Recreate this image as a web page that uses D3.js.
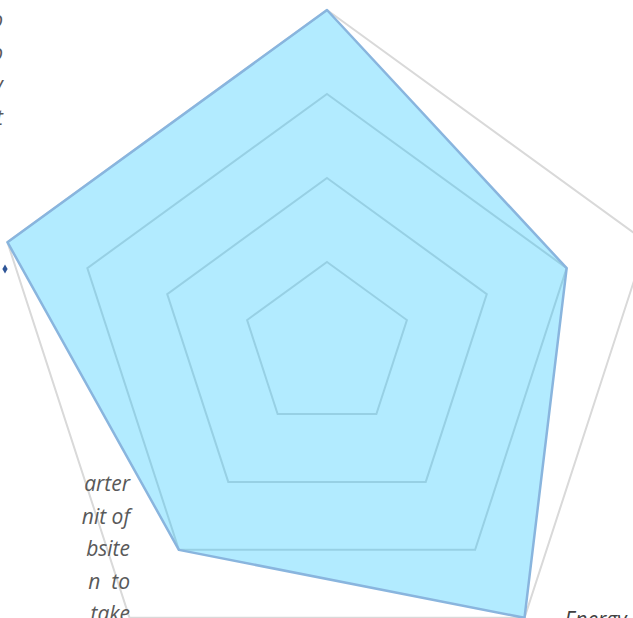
<!DOCTYPE html>
<html>
<head>
<meta charset="utf-8">
<script src="https://cdn.jsdelivr.net/npm/d3@7"></script>
<style>
  html, body { margin: 0; padding: 0; background: #fff; }
  #chart { width: 633px; height: 618px; overflow: hidden; }
  text { font-family: "Open Sans", "Noto Sans", sans-serif; }
</style>
</head>
<body>
<div id="chart"></div>
<script>
// radar axes, clockwise from top (only "Energy" falls inside the visible frame)
const axes = ['A', 'B', 'Energy', 'D', 'E'];
const values = [4, 3, 4, 3, 4];
const levels = [1, 2, 3, 4];

// text fragments cut off by the frame
const leftNotes = ['arter', 'nit of', 'bsite', 'n\u00a0\u00a0to', 'take'];
const topNotes = ['o', 'o', 'y', 't'];

const W = 633, H = 618;
const cx = 327, cy = 346, R = 336;

const svg = d3.select('#chart').append('svg')
  .attr('width', W).attr('height', H);

const r = d3.scaleLinear().domain([0, d3.max(levels)]).range([0, R]);
const angle = d3.scaleLinear().domain([0, axes.length]).range([0, 2 * Math.PI]);

const g = svg.append('g').attr('transform', `translate(${cx},${cy})`);

const ring = d3.lineRadial()
  .angle((d, i) => angle(i))
  .radius(d => r(d))
  .curve(d3.curveLinearClosed);

// Gridlines
g.selectAll('.grid')
  .data(levels)
  .join('path')
  .attr('class', 'grid')
  .attr('d', l => ring(axes.map(() => l)))
  .attr('fill', 'none')
  .attr('stroke', '#d9d9d9')
  .attr('stroke-width', 2);

// Series area
g.append('path')
  .attr('d', ring(values))
  .attr('fill', 'rgb(0,190,255)')
  .attr('fill-opacity', 0.3)
  .attr('stroke', '#89b5de')
  .attr('stroke-width', 2.5)
  .attr('stroke-linejoin', 'round');

// Axis label
const ei = axes.indexOf('Energy');
const ex = r(values[ei]) * Math.sin(angle(ei));
const ey = -r(values[ei]) * Math.cos(angle(ei));
g.append('text')
  .attr('x', ex + 40)
  .attr('y', ey + 9)
  .attr('font-size', 21)
  .attr('font-style', 'italic')
  .attr('fill', '#404040')
  .text('Energy');

// Side text (paragraph, cropped)
svg.append('g')
  .selectAll('text')
  .data(leftNotes)
  .join('text')
  .attr('x', 130)
  .attr('y', (d, i) => 491 + i * 32.5)
  .attr('text-anchor', 'end')
  .attr('font-size', 21)
  .attr('font-style', 'italic')
  .attr('fill', '#595959')
  .text(d => d);

svg.append('g')
  .selectAll('text')
  .data(topNotes)
  .join('text')
  .attr('x', 3)
  .attr('y', (d, i) => 27 + i * 32.5)
  .attr('text-anchor', 'end')
  .attr('font-size', 21)
  .attr('font-style', 'italic')
  .attr('fill', '#595959')
  .text(d => d);

// small blue marker at left edge
svg.append('path')
  .attr('d', d3.symbol(d3.symbolDiamond, 24)())
  .attr('transform', 'translate(5,269)')
  .attr('fill', '#2f5597');
</script>
</body>
</html>
